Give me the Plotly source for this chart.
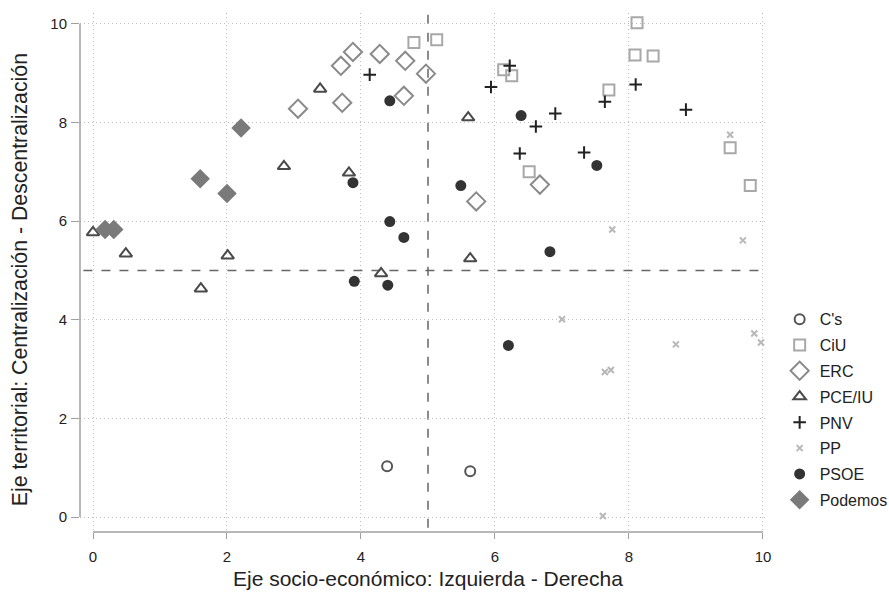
import plotly.graph_objects as go

# ---- data ----
cs_x = [4.39, 5.63]
cs_y = [1.03, 0.93]

ciu_x = [4.79, 5.13, 6.13, 6.25, 7.70, 8.12, 8.09, 8.36, 6.51, 9.51, 9.81]
ciu_y = [9.62, 9.68, 9.07, 8.95, 8.66, 10.02, 9.37, 9.35, 7.00, 7.49, 6.72]

erc_x = [3.06, 3.72, 3.70, 3.88, 4.28, 4.66, 4.97, 4.64, 6.67, 5.72]
erc_y = [8.28, 8.40, 9.15, 9.43, 9.39, 9.25, 8.99, 8.54, 6.74, 6.40]

pce_x = [0.0, 0.49, 2.01, 1.61, 2.85, 3.39, 3.82, 5.60, 5.63, 4.30]
pce_y = [5.77, 5.34, 5.30, 4.63, 7.11, 8.68, 6.98, 8.10, 5.24, 4.94]

pnv_x = [4.13, 5.94, 6.22, 6.90, 6.61, 6.37, 7.33, 7.64, 8.10, 8.85]
pnv_y = [8.97, 8.72, 9.15, 8.18, 7.92, 7.37, 7.39, 8.42, 8.77, 8.26]

pp_x = [9.51, 7.75, 9.70, 7.00, 7.64, 7.73, 8.70, 9.87, 9.97, 7.61]
pp_y = [7.75, 5.83, 5.61, 4.01, 2.94, 2.98, 3.50, 3.72, 3.54, 0.02]

psoe_x = [3.88, 3.90, 4.43, 6.39, 7.52, 5.49, 4.43, 4.64, 6.82, 4.40, 6.20]
psoe_y = [6.78, 4.78, 8.44, 8.14, 7.13, 6.72, 5.99, 5.67, 5.38, 4.70, 3.48]

pod_x = [2.21, 1.60, 2.00, 0.18, 0.31]
pod_y = [7.89, 6.86, 6.56, 5.83, 5.83]

ticks = [0, 2, 4, 6, 8, 10]
x_title = "Eje socio-económico: Izquierda - Derecha"
y_title = "Eje territorial: Centralización - Descentralización"

FONT = "Liberation Sans, Arial, Helvetica, sans-serif"

series = [
    ("C's", cs_x, cs_y, "circle-open", 10, "#555555", 2),
    ("CiU", ciu_x, ciu_y, "square-open", 11, "#a8a8a8", 2),
    ("ERC", erc_x, erc_y, "diamond-open", 14, "#8a8a8a", 2),
    ("PCE/IU", pce_x, pce_y, "triangle-up-open", 11, "#4a4a4a", 2),
    ("PNV", pnv_x, pnv_y, "cross-thin-open", 9, "#222222", 2),
    ("PP", pp_x, pp_y, "x-thin-open", 6, "#b8b8b8", 2),
    ("PSOE", psoe_x, psoe_y, "circle", 11, "#333333", 0),
    ("Podemos", pod_x, pod_y, "diamond", 15, "#7a7a7a", 0),
]

fig = go.Figure()
for name, xs, ys, sym, size, col, lw in series:
    fig.add_trace(go.Scatter(
        x=xs, y=ys, mode="markers", name=name, legendgroup=name,
        marker=dict(symbol=sym, size=size, color=col,
                    line=dict(width=lw, color=col)),
    ))

axis_col = "#a0a0a0"
grid_col = "#bdbdbd"
fig.update_layout(
    width=889, height=593,
    margin=dict(l=80, r=122, t=13, b=61, autoexpand=False),
    paper_bgcolor="white", plot_bgcolor="white",
    font=dict(family=FONT, size=15, color="#222222"),
    showlegend=True,
    legend=dict(x=0.877, y=0.309, xanchor="left", yanchor="middle",
                xref="container", yref="container",
                font=dict(size=16, color="#222222"),
                traceorder="grouped", tracegroupgap=2,
                bgcolor="rgba(0,0,0,0)", borderwidth=0),
    xaxis=dict(range=[-0.194, 10.06], tickvals=ticks, ticktext=[str(t) for t in ticks],
               showgrid=True, gridcolor=grid_col, griddash="1px,3px", gridwidth=1,
               zeroline=False, showline=False, ticks="outside", ticklen=6,
               tickcolor=axis_col, tickwidth=1.3, ticklabelstandoff=5,
               tickfont=dict(size=15, color="#222222")),
    yaxis=dict(range=[-0.304, 10.22], tickvals=ticks, ticktext=[str(t) for t in ticks],
               showgrid=True, gridcolor=grid_col, griddash="1px,3px", gridwidth=1,
               zeroline=False, showline=False, ticks="outside", ticklen=8,
               tickcolor=axis_col, tickwidth=1.3, ticklabelstandoff=1,
               tickfont=dict(size=15, color="#222222")),
)

# axis lines spanning the tick range (Stata style)
fig.add_shape(type="line", xref="x", yref="paper", x0=0, x1=10, y0=0, y1=0,
              line=dict(color=axis_col, width=1.5))
fig.add_shape(type="line", xref="paper", yref="y", x0=0, x1=0, y0=0, y1=10,
              line=dict(color=axis_col, width=1.5))

# reference lines at 5
fig.add_shape(type="line", xref="x", yref="paper", x0=5, x1=5, y0=0.008, y1=1,
              line=dict(color="#666666", width=1.5, dash="dash"), layer="below")
fig.add_shape(type="line", xref="paper", yref="y", x0=0.005, x1=1, y0=5, y1=5,
              line=dict(color="#666666", width=1.5, dash="dash"), layer="below")

# axis titles
fig.add_annotation(text=x_title, xref="x", yref="paper", x=5, y=-0.09,
                   xanchor="center", yanchor="middle", showarrow=False,
                   font=dict(size=21, color="#222222"))
fig.add_annotation(text=y_title, xref="paper", yref="paper", x=-0.088, y=0.486,
                   xanchor="center", yanchor="middle", textangle=-90, showarrow=False,
                   font=dict(size=21.3, color="#222222"))

fig.write_html("out.html")
